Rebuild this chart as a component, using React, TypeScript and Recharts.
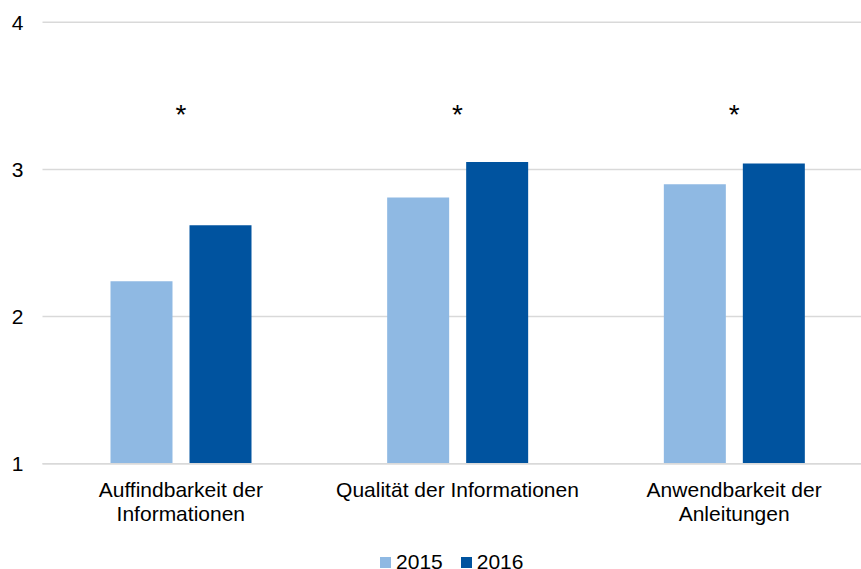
import React from "react";
import { BarChart, Bar, XAxis, YAxis, CartesianGrid, Legend, ReferenceDot } from "recharts";

const categoryLines = [
  ["Auffindbarkeit der", "Informationen"],
  ["Qualität der Informationen"],
  ["Anwendbarkeit der", "Anleitungen"],
];
const categories = categoryLines.map((l) => l.join(" "));
const values2015 = [2.24, 2.81, 2.9];
const values2016 = [2.62, 3.05, 3.04];
const significant = [true, true, true];
const starLevel = 3.415;
const yTicks = [1, 2, 3, 4];
const seriesNames = ["2015", "2016"];
const seriesKeys = ["v2015", "v2016"];
const colors = ["#8FB9E3", "#00539F"];

const FONT = '"Liberation Sans", Arial, sans-serif';
const FS = 21;

const data = categories.map((c, i) => ({
  category: c,
  v2015: values2015[i],
  v2016: values2016[i],
}));

const CategoryTick = (props: any) => {
  const { x, y, index } = props;
  const lines = categoryLines[index] || [];
  return (
    <text
      x={x}
      y={y}
      textAnchor="middle"
      fill="#000"
      style={{ fontFamily: FONT, fontSize: FS }}
    >
      {lines.map((ln, j) => (
        <tspan key={j} x={x} dy={j === 0 ? "0.71em" : 24}>
          {ln}
        </tspan>
      ))}
    </text>
  );
};

const StarShape = (props: any) => {
  const { cx, cy } = props;
  return (
    <text
      x={cx}
      y={cy}
      dy="0.57em"
      textAnchor="middle"
      fill="#000"
      style={{ fontFamily: FONT, fontSize: 28 }}
    >
      *
    </text>
  );
};

const LegendContent = () => (
  <div
    style={{
      display: "flex",
      justifyContent: "center",
      alignItems: "center",
      height: 24,
      fontFamily: FONT,
      fontSize: FS,
      color: "#000",
      lineHeight: "24px",
      paddingLeft: 31,
    }}
  >
    {seriesNames.map((n, i) => (
      <span
        key={n}
        style={{ display: "flex", alignItems: "center", marginRight: i === 0 ? 18 : 0 }}
      >
        <span
          style={{
            display: "inline-block",
            width: 11,
            height: 11,
            background: colors[i],
            marginRight: 5,
          }}
        />
        {n}
      </span>
    ))}
  </div>
);

export default function App() {
  return (
    <div
      style={{
        position: "absolute",
        left: 0,
        top: 0,
        width: 861,
        height: 569,
        overflow: "hidden",
        background: "#fff",
      }}
    >
      <BarChart
        width={904}
        height={574}
        data={data}
        margin={{ top: 22.3, right: 31.5, bottom: 0, left: 0 }}
        barSize={62}
        barGap={17}
      >
        <CartesianGrid vertical={false} stroke="#D9D9D9" strokeWidth={1.5} />
        <XAxis
          dataKey="category"
          axisLine={{ stroke: "#D9D9D9", strokeWidth: 1.5 }}
          tickLine={false}
          tickSize={0}
          tickMargin={18}
          height={86.3}
          interval={0}
          tick={<CategoryTick />}
        />
        <YAxis
          domain={[1, 4]}
          ticks={yTicks}
          axisLine={false}
          tickLine={false}
          tickSize={0}
          tickMargin={19}
          width={42.5}
          tick={{ fontSize: FS, fill: "#000", fontFamily: FONT }}
        />
        {seriesKeys.map((k, i) => (
          <Bar
            key={k}
            dataKey={k}
            name={seriesNames[i]}
            fill={colors[i]}
            isAnimationActive={false}
          />
        ))}
        {categories.map((c, i) =>
          significant[i] ? (
            <ReferenceDot
              key={c}
              x={c}
              y={starLevel}
              r={0}
              ifOverflow="visible"
              shape={StarShape}
            />
          ) : null
        )}
        <Legend verticalAlign="bottom" content={LegendContent} />
      </BarChart>
    </div>
  );
}
